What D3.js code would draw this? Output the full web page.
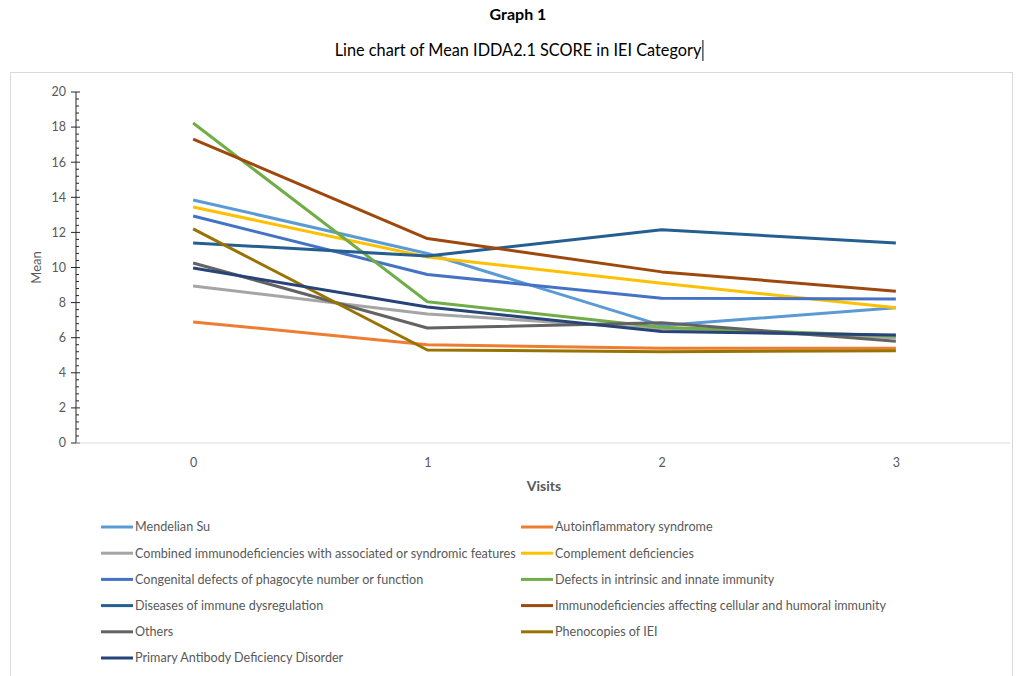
<!DOCTYPE html>
<html>
<head>
<meta charset="utf-8">
<script src="https://cdn.jsdelivr.net/npm/d3@7"></script>
<style>
  html, body { margin: 0; padding: 0; background: #fff; }
  svg { display: block; font-family: Lato, "Open Sans", sans-serif; }
</style>
</head>
<body>
<svg id="chart" width="1018" height="676"></svg>
<script>
// Visits on the x axis
const visits = ["0", "1", "2", "3"];

// IEI categories (legend order = drawing order)
const categories = [
  "Mendelian Su",
  "Autoinflammatory syndrome",
  "Combined immunodeficiencies with associated or syndromic features",
  "Complement deficiencies",
  "Congenital defects of phagocyte number or function",
  "Defects in intrinsic and innate immunity",
  "Diseases of immune dysregulation",
  "Immunodeficiencies affecting cellular and humoral immunity",
  "Others",
  "Phenocopies of IEI",
  "Primary Antibody Deficiency Disorder"
];

// Mean IDDA2.1 score per visit, one array per category
const mendelianSu      = [13.85, 10.8, 6.7, 7.7];
const autoinflammatory = [6.9, 5.6, 5.4, 5.4];
const combinedImmuno   = [8.95, 7.35, 6.5, 6.0];
const complementDef    = [13.45, 10.6, 9.1, 7.7];
const congenitalDef    = [12.93, 9.6, 8.25, 8.2];
const defectsInnate    = [18.23, 8.05, 6.6, 6.1];
const immuneDysreg     = [11.4, 10.65, 12.15, 11.4];
const cellularHumoral  = [17.32, 11.65, 9.75, 8.65];
const others           = [10.26, 6.55, 6.85, 5.8];
const phenocopies      = [12.2, 5.3, 5.2, 5.25];
const primaryAntibody  = [9.97, 7.75, 6.35, 6.15];

const seriesValues = [
  mendelianSu, autoinflammatory, combinedImmuno, complementDef, congenitalDef,
  defectsInnate, immuneDysreg, cellularHumoral, others, phenocopies, primaryAntibody
];

const colors = [
  "#5B9BD5", "#ED7D31", "#A5A5A5", "#FFC000", "#4472C4",
  "#70AD47", "#255E91", "#9E480E", "#636363", "#997300", "#264478"
];

const yTicks = [0, 2, 4, 6, 8, 10, 12, 14, 16, 18, 20];

const svg = d3.select("#chart");
const textColor = "#595959";

// Titles above the chart frame
svg.append("text")
  .attr("x", 518).attr("y", 20)
  .attr("text-anchor", "middle")
  .attr("font-size", 16).attr("font-weight", "bold")
  .attr("fill", "#000")
  .text("Graph 1");

const sub = svg.append("text")
  .attr("x", 518).attr("y", 56)
  .attr("text-anchor", "middle")
  .attr("font-size", 16.3)
  .attr("fill", "#000")
  .text("Line chart of Mean IDDA2.1 SCORE in IEI Category");
const subBox = sub.node().getBBox();
svg.append("line")
  .attr("x1", subBox.x + subBox.width + 1).attr("x2", subBox.x + subBox.width + 1)
  .attr("y1", 40).attr("y2", 61)
  .attr("stroke", "#000").attr("stroke-width", 1);

// Chart frame
svg.append("rect")
  .attr("x", 10.5).attr("y", 72.5)
  .attr("width", 1002).attr("height", 620)
  .attr("fill", "none").attr("stroke", "#d9d9d9").attr("stroke-width", 1);

// Scales
const x = d3.scalePoint().domain(visits).range([76, 1013]).padding(0.5);
const y = d3.scaleLinear().domain([0, 20]).range([443, 92]);

// Y axis: major ticks cross the axis, minor ticks on the inside
const yAxisG = svg.append("g").attr("transform", "translate(76,0)");
yAxisG.append("line")
  .attr("x1", 0).attr("x2", 0).attr("y1", y(20)).attr("y2", y(0))
  .attr("stroke", "#262626").attr("stroke-width", 1);
const minorTicks = d3.range(0, 20.001, 0.4).filter(v => Math.abs(v / 2 - Math.round(v / 2)) > 1e-6);
yAxisG.selectAll("line.minor").data(minorTicks).join("line")
  .attr("class", "minor")
  .attr("x1", 0).attr("x2", 3)
  .attr("y1", d => y(d)).attr("y2", d => y(d))
  .attr("stroke", "#262626").attr("stroke-width", 1);
yAxisG.selectAll("line.major").data(yTicks).join("line")
  .attr("class", "major")
  .attr("x1", -5).attr("x2", 4)
  .attr("y1", d => y(d)).attr("y2", d => y(d))
  .attr("stroke", "#262626").attr("stroke-width", 1);
yAxisG.selectAll("text").data(yTicks).join("text")
  .attr("x", -10).attr("y", d => y(d))
  .attr("dy", "0.35em")
  .attr("text-anchor", "end")
  .attr("font-size", 12.5).attr("fill", textColor)
  .text(d => d);

svg.append("text")
  .attr("transform", `translate(41,${y(10)}) rotate(-90)`)
  .attr("text-anchor", "middle")
  .attr("font-size", 13).attr("fill", textColor)
  .text("Mean");

// X axis line and labels
const xAxis = d3.axisBottom(x).tickSize(0).tickPadding(15);
const xAxisG = svg.append("g").attr("transform", `translate(0,${y(0)})`).call(xAxis);
xAxisG.select(".domain").attr("stroke", "#d9d9d9").attr("stroke-width", 1.2)
  .attr("d", "M76,0H1010");
xAxisG.selectAll("text")
  .attr("font-size", 12.5).attr("fill", textColor)
  .attr("font-family", "Lato, sans-serif");

svg.append("text")
  .attr("x", 544).attr("y", 491)
  .attr("text-anchor", "middle")
  .attr("font-size", 14).attr("font-weight", "bold").attr("fill", textColor)
  .text("Visits");

// Lines
const line = d3.line()
  .x((d, i) => x(visits[i]))
  .y(d => y(d));

svg.append("g").selectAll("path").data(seriesValues).join("path")
  .attr("d", d => line(d))
  .attr("fill", "none")
  .attr("stroke", (d, i) => colors[i])
  .attr("stroke-width", 3)
  .attr("stroke-linejoin", "round");

// Legend: two columns, filled row by row
const legend = svg.append("g");
const rowY = i => 527 + Math.floor(i / 2) * 26.2;
const colX = i => (i % 2 === 0 ? 101 : 521);
const items = legend.selectAll("g").data(categories).join("g")
  .attr("transform", (d, i) => `translate(${colX(i)},${rowY(i)})`);
items.append("line")
  .attr("x1", 0).attr("x2", 32).attr("y1", 0).attr("y2", 0)
  .attr("stroke", (d, i) => colors[i]).attr("stroke-width", 3);
items.append("text")
  .attr("x", 34).attr("y", 0).attr("dy", "0.35em")
  .attr("font-size", 12.6).attr("fill", textColor)
  .text(d => d);
</script>
</body>
</html>
